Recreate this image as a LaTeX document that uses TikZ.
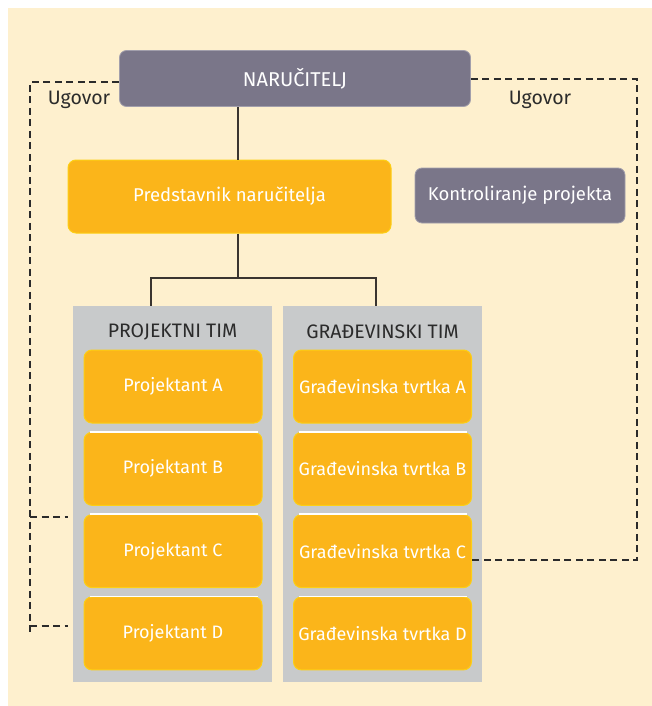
\documentclass[tikz,border=0pt]{standalone}
\usepackage{fontspec}
\setmainfont{Fira Sans}
\definecolor{cream}{HTML}{FEF0CE}
\definecolor{boxgray}{HTML}{7A7689}
\definecolor{panelgray}{HTML}{C8CACB}
\definecolor{yel}{HTML}{FBB51A}
\definecolor{yelb}{HTML}{FDCF14}
\definecolor{ink}{HTML}{2B2B2B}
\definecolor{linec}{HTML}{3A3530}
\tikzset{
  graybox/.style={draw=boxgray!70!white, line width=0.8pt, fill=boxgray, rounded corners=7pt, inner sep=0pt, text=white, font=\fontsize{18.5}{22}\selectfont},
  yelbox/.style={draw=yelb, line width=1pt, fill=yel, rounded corners=8pt, inner sep=0pt, text=white, font=\fontsize{18}{22}\selectfont},
  panel/.style={fill=panelgray, inner sep=0pt, minimum width=199pt, minimum height=376pt},
  ptitle/.style={text=ink, font=\fontsize{19.5}{23}\selectfont, inner sep=0pt},
  member/.style={yelbox, minimum width=178pt, minimum height=73pt},
  conn/.style={draw=linec, line width=1.2pt},
  dl/.style={draw=ink, line width=2.4pt, dash pattern=on 7pt off 4.5pt},
  hl/.style={draw=white, line width=1.5pt},
  lbl/.style={text=ink, font=\fontsize{19.5}{23}\selectfont, inner sep=0pt}
}
\begin{document}
\begin{tikzpicture}[x=1pt,y=-1pt]
\useasboundingbox (0,0) rectangle (652,706);
\fill[white] (0,0) rectangle (652,706);
\fill[cream] (8,8) rectangle (652,706);

\node[graybox, minimum width=351pt, minimum height=56pt, font=\fontsize{20}{24}\selectfont] (nar) at (295,78.5) {NARUČITELJ};
\node[yelbox, minimum width=323pt, minimum height=73pt, font=\fontsize{18.5}{22}\selectfont] (pred) at (229.5,196.5) {Predstavnik naručitelja};
\node[graybox, minimum width=210pt, minimum height=55pt] (kon) at (520,195.5) {Kontroliranje projekta};

\node[panel] (ptL) at (172.5,494) {};
\node[panel] (ptR) at (382.5,494) {};
\node[ptitle] (tL) at (172.5,332) {PROJEKTNI TIM};
\node[ptitle] (tR) at (382.5,332) {GRAĐEVINSKI TIM};

\node[member] (pA) at (173,386.5) {Projektant A};
\node[member] (pB) at (173,468.8) {Projektant B};
\node[member] (pC) at (173,551.1) {Projektant C};
\node[member] (pD) at (173,633.4) {Projektant D};
\node[member] (gA) at (382.5,386.5) {Građevinska tvrtka A};
\node[member] (gB) at (382.5,468.8) {Građevinska tvrtka B};
\node[member] (gC) at (382.5,551.1) {Građevinska tvrtka C};
\node[member] (gD) at (382.5,633.4) {Građevinska tvrtka D};

% white highlight lines on top of lower boxes
\foreach \n in {pB,pC,pD}{\draw[hl] ([xshift=6pt]\n.north west) -- ([xshift=-5pt]\n.north east);}
\foreach \n in {gB,gC,gD}{\draw[hl] ([xshift=6pt]\n.north west) -- ([xshift=-5pt]\n.north east);}

% solid connectors
\coordinate (cx) at (238,0);
\coordinate (bus) at (238,278);
\coordinate (busL) at (151,278);
\coordinate (busR) at (376,278);
\draw[conn] (nar.south -| cx) -- (pred.north -| cx);
\draw[conn] (pred.south -| cx) -- (bus);
\draw[conn] (busL |- ptL.north) -- (busL) -- (busR) -- (busR |- ptR.north);

% dashed contract lines
\coordinate (lc) at (30,636);
\coordinate (lb1) at (30,517);
\coordinate (lb2) at (30,626);
\coordinate (le1) at (68,517);
\coordinate (le2) at (68,626);
\draw[dl] ([yshift=-3.5pt]nar.west) -| (lc);
\draw[dl] (lb1) -- (le1);
\draw[dl] (lb2) -- (le2);
\coordinate (rc) at (637,79);
\draw[dl] (nar.east |- rc) -- (rc) |- ([yshift=-9pt]gC.east);

\node[lbl] (u1) at (79,100) {Ugovor};
\node[lbl] (u2) at (540,99.5) {Ugovor};
\end{tikzpicture}
\end{document}
